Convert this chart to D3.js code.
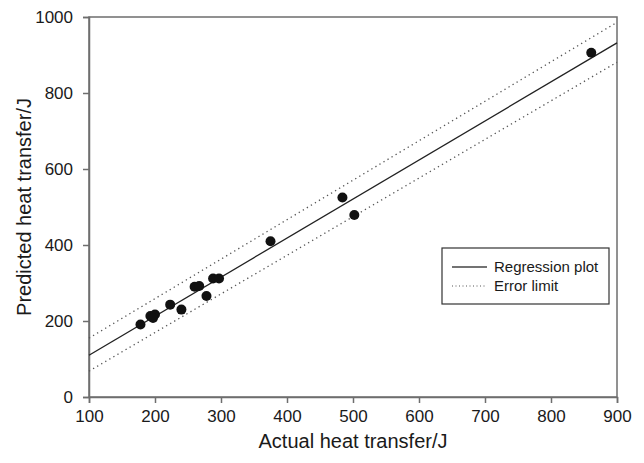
<!DOCTYPE html>
<meta charset="utf-8">
<style>
  body { margin: 0; background: #fff; }
  text { font-family: "Liberation Sans", Arial, sans-serif; fill: #1a1a1a; }
</style>
<body>
<svg width="644" height="463"></svg>
<script src="https://cdn.jsdelivr.net/npm/d3@7"></script>
<script>
  // measured points (actual, predicted)
  var actual = [178, 193, 200, 197, 223, 240, 260, 267, 278, 288, 297, 375, 484, 502, 861]
  var predicted = [191, 213, 217, 208, 243, 230, 290, 292, 266, 312, 312, 410, 525, 479, 906]

  // line end points, x then y
  var regX = [100, 900], regY = [110, 932]
  var upX = [100, 900], upY = [155, 986]
  var lowX = [100, 900], lowY = [68, 881]

  var xTicks = [100, 200, 300, 400, 500, 600, 700, 800, 900]
  var yTicks = [0, 200, 400, 600, 800, 1000]
  var legendLabels = ['Regression plot', 'Error limit']

  var margin = {top: 17, right: 27, bottom: 66, left: 89}
  var width = 644 - margin.left - margin.right
  var height = 463 - margin.top - margin.bottom

  var svg = d3.select('svg')
  var g = svg.append('g').attr('transform', 'translate(' + margin.left + ',' + margin.top + ')')

  var x = d3.scaleLinear().domain([100, 900]).range([0, width])
  var y = d3.scaleLinear().domain([0, 1000]).range([height, 0])

  var axisColor = '#6e6e6e'

  // frame
  g.append('rect')
    .attr('width', width).attr('height', height)
    .attr('fill', 'none').attr('stroke', axisColor).attr('stroke-width', 1.5)

  var xAxis = g.append('g')
    .attr('transform', 'translate(0,' + height + ')')
    .call(d3.axisBottom(x).tickValues(xTicks).tickFormat(d3.format('d')).tickSize(6).tickPadding(7))
  var yAxis = g.append('g')
    .call(d3.axisLeft(y).tickValues(yTicks).tickFormat(d3.format('d')).tickSize(6).tickPadding(10))

  ;[xAxis, yAxis].forEach(function(a) {
    a.select('.domain').attr('stroke', axisColor).attr('stroke-width', 1.5)
    a.selectAll('.tick line').attr('stroke', axisColor).attr('stroke-width', 1.5)
    a.selectAll('.tick text').attr('font-size', 17).attr('fill', '#1a1a1a')
      .style('font-family', '"Liberation Sans", Arial, sans-serif')
  })

  var line = d3.line()
    .x(function(d) { return x(d[0]) })
    .y(function(d) { return y(d[1]) })

  g.append('path')
    .datum(d3.zip(upX, upY))
    .attr('d', line).attr('fill', 'none')
    .attr('stroke', '#555').attr('stroke-width', 1.3).attr('stroke-dasharray', '1.3,3.4')
  g.append('path')
    .datum(d3.zip(lowX, lowY))
    .attr('d', line).attr('fill', 'none')
    .attr('stroke', '#555').attr('stroke-width', 1.3).attr('stroke-dasharray', '1.3,3.4')
  g.append('path')
    .datum(d3.zip(regX, regY))
    .attr('d', line).attr('fill', 'none')
    .attr('stroke', '#222').attr('stroke-width', 1.3)

  g.append('g').selectAll('circle')
    .data(d3.zip(actual, predicted))
    .enter().append('circle')
    .attr('cx', function(d) { return x(d[0]) })
    .attr('cy', function(d) { return y(d[1]) })
    .attr('r', 5)
    .attr('fill', '#111')

  // legend
  var lg = svg.append('g').attr('transform', 'translate(442,248)')
  lg.append('rect').attr('width', 167).attr('height', 56)
    .attr('fill', '#fff').attr('stroke', '#333').attr('stroke-width', 1.2)
  lg.selectAll('line')
    .data(legendLabels)
    .enter().append('line')
    .attr('x1', 10).attr('x2', 45)
    .attr('y1', function(d, i) { return 19 + i * 19 })
    .attr('y2', function(d, i) { return 19 + i * 19 })
    .attr('stroke', function(d, i) { return i ? '#555' : '#444' })
    .attr('stroke-width', function(d, i) { return i ? 1 : 1.5 })
    .attr('stroke-dasharray', function(d, i) { return i ? '1,2.5' : null })
  lg.selectAll('text')
    .data(legendLabels)
    .enter().append('text')
    .attr('x', 52)
    .attr('y', function(d, i) { return 19 + i * 19 })
    .attr('dy', '0.35em')
    .attr('font-size', 15)
    .text(function(d) { return d })

  // axis titles
  svg.append('text')
    .attr('x', margin.left + width / 2).attr('y', 448)
    .attr('text-anchor', 'middle').attr('font-size', 20)
    .text('Actual heat transfer/J')
  svg.append('text')
    .attr('transform', 'translate(31,' + (margin.top + height / 2) + ') rotate(-90)')
    .attr('text-anchor', 'middle').attr('font-size', 20)
    .text('Predicted heat transfer/J')
</script>
</body>
